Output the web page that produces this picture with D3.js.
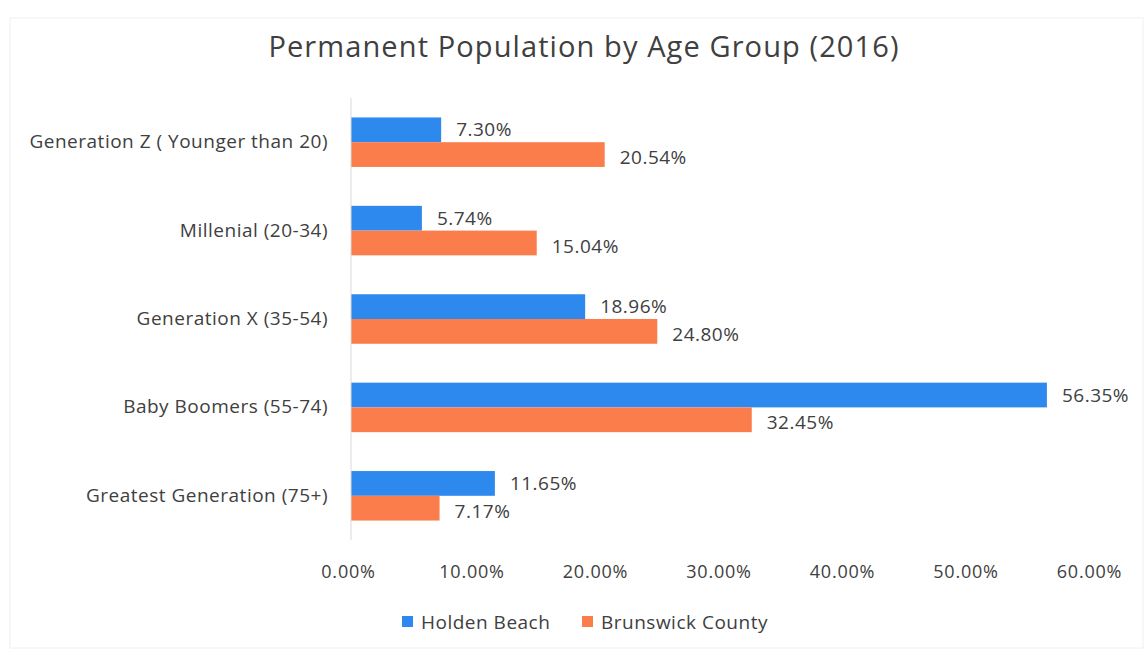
<!DOCTYPE html>
<html lang="en">
<head>
    <meta charset="utf-8" />
    <script src="https://d3js.org/d3.v7.min.js"></script>
    <style>
        body { margin: 0; background: #fff; }
        text { font-family: "Open Sans", sans-serif; fill: #404040; }
    </style>
</head>
<body>
    <script>
        const w = 1145;
        const h = 652;

        const categories = [
            "Generation Z ( Younger than 20)",
            "Millenial (20-34)",
            "Generation X (35-54)",
            "Baby Boomers (55-74)",
            "Greatest Generation (75+)"
        ];
        const seriesNames = ["Holden Beach", "Brunswick County"];
        const holdenBeach = [7.30, 5.74, 18.96, 56.35, 11.65];
        const brunswickCounty = [20.54, 15.04, 24.80, 32.45, 7.17];
        const xTicks = [0, 10, 20, 30, 40, 50, 60];
        const colors = ["#2e89ef", "#fb7d4c"];

        const margin = { top: 98, right: 50, bottom: 112, left: 351 };

        const svg = d3.select("body")
            .append("svg")
            .attr("width", w)
            .attr("height", h);

        // faint outer frame like the screenshot
        svg.append("rect")
            .attr("x", 10).attr("y", 18)
            .attr("width", w - 12).attr("height", h - 22)
            .attr("fill", "none")
            .attr("stroke", "#f0f0f0");

        svg.append("text")
            .attr("x", 584)
            .attr("y", 57)
            .attr("text-anchor", "middle")
            .style("font-size", "29px")
            .style("letter-spacing", "1.1px")
            .text("Permanent Population by Age Group (2016)");

        const xScale = d3.scaleLinear()
            .domain([0, 60])
            .range([margin.left, 1092]);

        const yScale = d3.scaleBand()
            .domain(categories)
            .range([margin.top, h - margin.bottom])
            .paddingInner(0.44)
            .paddingOuter(0.22);

        const sub = d3.scaleBand()
            .domain(seriesNames)
            .range([0, yScale.bandwidth()]);

        const rows = categories.map((c, i) => ({
            cat: c,
            vals: [holdenBeach[i], brunswickCounty[i]]
        }));

        const groups = svg.selectAll(".grp")
            .data(rows)
            .enter()
            .append("g")
            .attr("class", "grp")
            .attr("transform", d => "translate(0," + yScale(d.cat) + ")");

        groups.selectAll("rect")
            .data(d => d.vals.map((v, j) => ({ v: v, s: seriesNames[j], j: j })))
            .enter()
            .append("rect")
            .attr("x", xScale(0))
            .attr("y", d => sub(d.s))
            .attr("width", d => xScale(d.v) - xScale(0))
            .attr("height", sub.bandwidth())
            .attr("fill", d => colors[d.j]);

        groups.selectAll(".lbl")
            .data(d => d.vals.map((v, j) => ({ v: v, s: seriesNames[j], j: j })))
            .enter()
            .append("text")
            .attr("class", "lbl")
            .attr("x", d => xScale(d.v) + 15)
            .attr("y", d => sub(d.s) + sub.bandwidth() / 2 + (d.j === 0 ? 0 : 3))
            .attr("dy", "0.35em")
            .style("font-size", "19px")
            .style("letter-spacing", "0.5px")
            .text(d => d.v.toFixed(2) + "%");

        // vertical axis line
        svg.append("line")
            .attr("x1", xScale(0)).attr("x2", xScale(0))
            .attr("y1", margin.top).attr("y2", h - margin.bottom)
            .attr("stroke", "#d9d9d9");

        const yAxis = d3.axisLeft(yScale).tickSize(0).tickPadding(23);
        const yg = svg.append("g")
            .attr("transform", "translate(" + xScale(0) + ",0)")
            .call(yAxis);
        yg.select(".domain").remove();
        yg.selectAll("text")
            .style("font-size", "19px")
            .style("letter-spacing", "0.5px");

        const xAxis = d3.axisBottom(xScale)
            .tickValues(xTicks)
            .tickSize(0)
            .tickPadding(0)
            .tickFormat(d => d.toFixed(2) + "%");
        const xg = svg.append("g")
            .attr("transform", "translate(-3,565)")
            .call(xAxis);
        xg.select(".domain").remove();
        xg.selectAll("text")
            .style("font-size", "18px")
            .style("letter-spacing", "0.8px");

        // legend
        const legend = svg.append("g").attr("transform", "translate(0,622)");
        const legendX = [402, 582];
        seriesNames.forEach((s, i) => {
            legend.append("rect")
                .attr("x", legendX[i]).attr("y", -6)
                .attr("width", 11).attr("height", 11)
                .attr("fill", colors[i]);
            legend.append("text")
                .attr("x", legendX[i] + 19)
                .attr("y", 0)
                .attr("dy", "0.35em")
                .style("font-size", "19px")
                .style("letter-spacing", "0.5px")
                .text(s);
        });
    </script>
</body>
</html>
